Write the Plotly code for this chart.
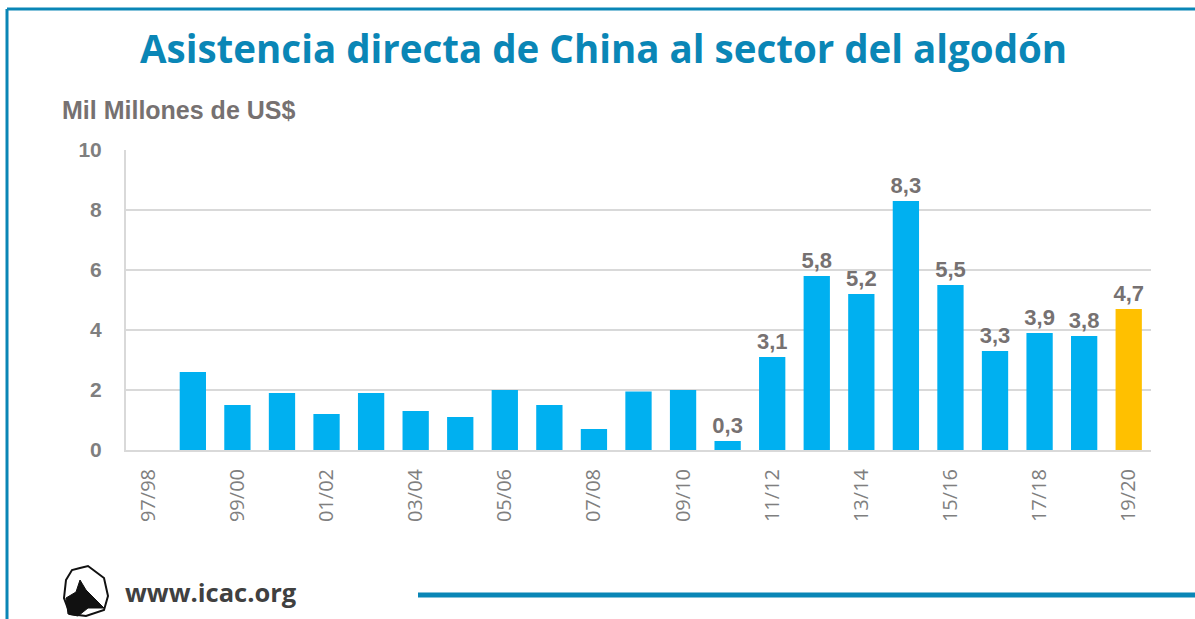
import plotly.graph_objects as go

categories = ["97/98", "98/99", "99/00", "00/01", "01/02", "02/03", "03/04", "04/05",
              "05/06", "06/07", "07/08", "08/09", "09/10", "10/11", "11/12", "12/13",
              "13/14", "14/15", "15/16", "16/17", "17/18", "18/19", "19/20"]
values = [None, 2.6, 1.5, 1.9, 1.2, 1.9, 1.3, 1.1, 2.0, 1.5, 0.7, 1.95, 2.0,
          0.3, 3.1, 5.8, 5.2, 8.3, 5.5, 3.3, 3.9, 3.8, 4.7]
labeled_from = "10/11"
highlight = "19/20"
tick_labels = categories[::2]
y_ticks = [0, 2, 4, 6, 8, 10]

W, H = 1195, 619
L, R, T, B = 126, 1151, 150, 450

def px(x):
    return (x - L) / (R - L)

def py(y):
    return (B - y) / (B - T)

start = categories.index(labeled_from)
texts = []
for i, v in enumerate(values):
    if v is not None and i >= start:
        texts.append("<b>" + f"{v:.1f}".replace(".", ",") + "</b>")
    else:
        texts.append("")

colors = ["#FFC000" if c == highlight else "#00B0F0" for c in categories]

fig = go.Figure(go.Bar(
    x=categories, y=values, marker=dict(color=colors, line=dict(width=0)),
    text=texts, textposition="outside", cliponaxis=False, constraintext="none",
    textfont=dict(family="Liberation Sans", size=22, color="#767171"),
    hoverinfo="x+y",
))

blue = "#0A86B6"
fig.update_layout(
    width=W, height=H, autosize=False,
    margin=dict(l=L, r=W - R, t=T, b=H - B),
    paper_bgcolor="white", plot_bgcolor="white",
    bargap=0.41, showlegend=False,
    font=dict(family="Liberation Sans"),
    xaxis=dict(
        type="category", tickmode="array", tickvals=tick_labels, ticktext=tick_labels,
        tickangle=-90, tickfont=dict(family="Open Sans", size=20, color="#7F7F7F"),
        showline=True, linecolor="#D9D9D9", linewidth=2, ticks="outside", ticklen=9,
        tickcolor="rgba(0,0,0,0)", showgrid=False,
    ),
    yaxis=dict(
        range=[0, 10], tickmode="array", tickvals=y_ticks,
        ticktext=[f"<b>{t}</b>" for t in y_ticks],
        tickfont=dict(family="Liberation Sans", size=21, color="#7F7F7F"),
        showgrid=True, gridcolor="#D9D9D9", gridwidth=2,
        showline=True, linecolor="#D9D9D9", linewidth=2, zeroline=False,
        ticks="outside", ticklen=18, tickcolor="rgba(0,0,0,0)",
    ),
    shapes=[
        dict(type="line", xref="paper", yref="paper", x0=px(7), x1=px(W + 5), y0=py(9), y1=py(9),
             line=dict(color=blue, width=3)),
        dict(type="line", xref="paper", yref="paper", x0=px(7), x1=px(7), y0=py(9), y1=py(H + 5),
             line=dict(color=blue, width=3)),
        dict(type="line", xref="paper", yref="paper", x0=px(418), x1=px(W + 5), y0=py(595), y1=py(595),
             line=dict(color=blue, width=5)),
        dict(type="path", xref="paper", yref="paper",
             path=(f"M {px(66)},{py(580)} L {px(72)},{py(570)} L {px(80)},{py(568)} L {px(88)},{py(566)} "
                   f"L {px(96)},{py(572)} L {px(104)},{py(578)} L {px(108)},{py(596)} L {px(104)},{py(610)} "
                   f"L {px(86)},{py(616)} L {px(70)},{py(614)} L {px(64)},{py(598)} Z"),
             fillcolor="white", line=dict(color="#111111", width=2)),
        dict(type="path", xref="paper", yref="paper",
             path=(f"M {px(66)},{py(598)} L {px(76)},{py(592)} L {px(80)},{py(580)} L {px(86)},{py(590)} "
                   f"L {px(96)},{py(600)} L {px(104)},{py(608)} L {px(88)},{py(608)} L {px(78)},{py(616)} "
                   f"L {px(68)},{py(614)} Z"),
             fillcolor="#111111", line=dict(color="#111111", width=1)),
    ],
    annotations=[
        dict(text="<b>Asistencia directa de China al sector del algodón</b>", xref="paper", yref="paper",
             x=px(603), y=py(48), xanchor="center", yanchor="middle", showarrow=False,
             font=dict(family="Open Sans", size=38.5, color=blue)),
        dict(text="<b>Mil Millones de US$</b>", xref="paper", yref="paper",
             x=px(60), y=py(110), xanchor="left", yanchor="middle", showarrow=False,
             font=dict(family="Liberation Sans", size=25, color="#767171")),
        dict(text="<b>www.icac.org</b>", xref="paper", yref="paper",
             x=px(123), y=py(592), xanchor="left", yanchor="middle", showarrow=False,
             font=dict(family="Open Sans", size=25.5, color="#404040")),
    ],
)

fig.write_html("out.html", config={"displayModeBar": False},
               post_script="document.body.style.margin='0px';")
